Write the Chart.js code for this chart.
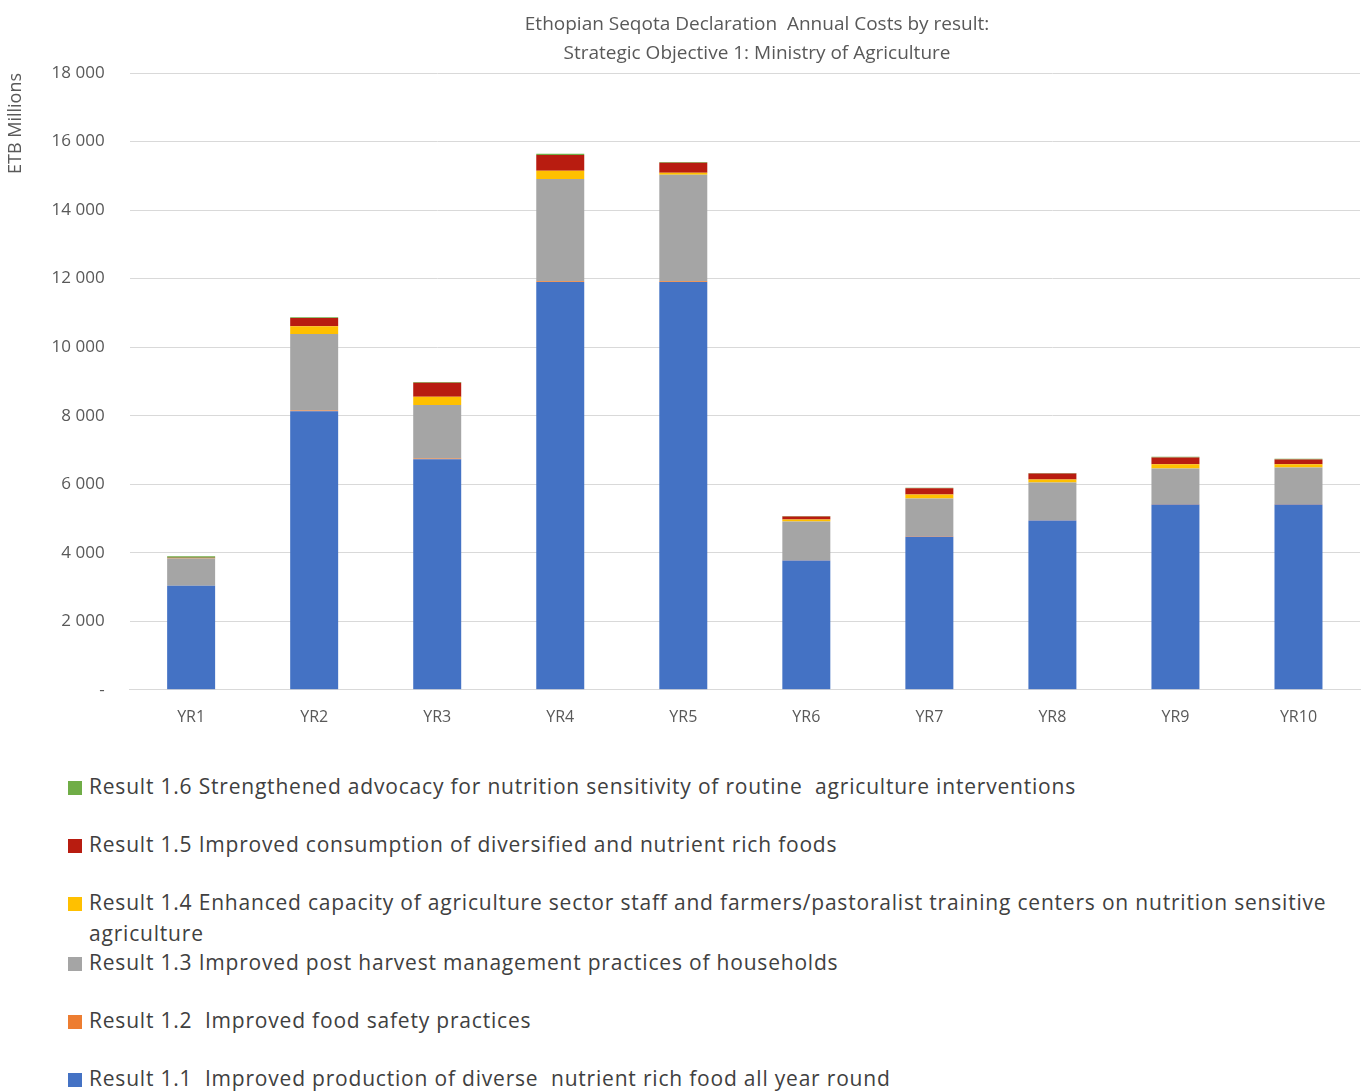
<!DOCTYPE html>
<html lang="en">
<head>
  <meta charset="UTF-8">
  <title>Seqota Declaration Annual Costs</title>
  <script src="https://cdn.jsdelivr.net/npm/chart.js"></script>
  <style>
    body {
      margin: 0;
      background: #fff;
      font-family: "Open Sans", sans-serif;
    }
    .wrap {
      position: relative;
      width: 1371px;
      height: 1091px;
    }
    .title {
      position: absolute;
      left: 457px;
      top: 9px;
      width: 600px;
      text-align: center;
      color: #595959;
      font-size: 19px;
      line-height: 29px;
    }
    .chart-box {
      position: absolute;
      left: 0;
      top: 0;
      width: 1371px;
      height: 745px;
    }
    #legend {
      position: absolute;
      left: 68px;
      top: 771px;
      width: 1262px;
      color: #404040;
      font-size: 21px;
      letter-spacing: 0.8px;
    }
    .item {
      display: flex;
      align-items: flex-start;
      line-height: 31px;
      margin-bottom: 27px;
    }
    .item.tight { margin-bottom: -2px; }
    .sw {
      flex: none;
      width: 14px;
      height: 14px;
      margin-top: 10px;
      margin-right: 7px;
    }
  </style>
</head>
<body>
  <div class="wrap">
    <div class="chart-box"><canvas id="costChart"></canvas></div>
    <div class="title">Ethopian Seqota Declaration&nbsp; Annual Costs by result:<br>Strategic Objective 1: Ministry of Agriculture</div>
    <div id="legend"></div>
  </div>
  <script>
    const years = ['YR1', 'YR2', 'YR3', 'YR4', 'YR5', 'YR6', 'YR7', 'YR8', 'YR9', 'YR10'];

    const result11 = [3040, 8130, 6730, 11900, 11900, 3770, 4470, 4940, 5410, 5410];
    const result12 = [0, 20, 20, 20, 20, 10, 10, 10, 10, 10];
    const result13 = [790, 2230, 1560, 2990, 3110, 1130, 1100, 1100, 1040, 1070];
    const result14 = [10, 230, 240, 240, 60, 60, 120, 90, 120, 90];
    const result15 = [10, 240, 410, 460, 290, 90, 180, 170, 200, 140];
    const result16 = [50, 20, 20, 30, 20, 10, 20, 20, 20, 20];

    const labels = [
      'Result 1.1&nbsp; Improved production of diverse&nbsp; nutrient rich food all year round',
      'Result 1.2&nbsp; Improved food safety practices',
      'Result 1.3 Improved post harvest management practices of households',
      'Result 1.4 Enhanced capacity of agriculture sector staff and farmers/pastoralist training centers on nutrition sensitive agriculture',
      'Result 1.5 Improved consumption of diversified and nutrient rich foods',
      'Result 1.6 Strengthened advocacy for nutrition sensitivity of routine&nbsp; agriculture interventions'
    ];
    const colors = ['#4472c4', '#ed7d31', '#a5a5a5', '#ffc000', '#b81c10', '#70ad47'];
    const series = [result11, result12, result13, result14, result15, result16];

    const datasets = series.map((d, i) => ({
      label: labels[i],
      data: d,
      backgroundColor: colors[i],
      barPercentage: 0.78,
      categoryPercentage: 0.5
    }));

    const fmt = v => v === 0 ? '-' : String(v).replace(/\B(?=(\d{3})+(?!\d))/g, ' ');

    new Chart(document.getElementById('costChart'), {
      type: 'bar',
      data: { labels: years, datasets: datasets },
      options: {
        responsive: true,
        maintainAspectRatio: false,
        animation: false,
        layout: { padding: { left: 5, right: 11, top: 73, bottom: 8 } },
        plugins: {
          legend: { display: false },
          tooltip: { enabled: false }
        },
        scales: {
          x: {
            stacked: true,
            grid: { display: false },
            border: { color: '#d9d9d9' },
            ticks: { color: '#595959', font: { family: 'Open Sans', size: 16 }, padding: 10 }
          },
          y: {
            stacked: true,
            min: 0,
            max: 18000,
            ticks: {
              stepSize: 2000,
              color: '#595959',
              font: { family: 'Open Sans', size: 17 },
              padding: 25,
              callback: v => fmt(v)
            },
            grid: { color: '#d9d9d9', drawTicks: false },
            border: { display: false },
            title: {
              display: true,
              text: 'ETB Millions',
              align: 'end',
              color: '#595959',
              font: { family: 'Open Sans', size: 18 },
              padding: 0
            }
          }
        }
      }
    });

    // legend in the same order as the original (top of stack first)
    const legendEl = document.getElementById('legend');
    for (let i = labels.length - 1; i >= 0; i--) {
      const item = document.createElement('div');
      item.className = 'item' + (i === 3 ? ' tight' : '');
      item.innerHTML = '<span class="sw" style="background:' + colors[i] + '"></span><span>' + labels[i] + '</span>';
      legendEl.appendChild(item);
    }
  </script>
</body>
</html>
